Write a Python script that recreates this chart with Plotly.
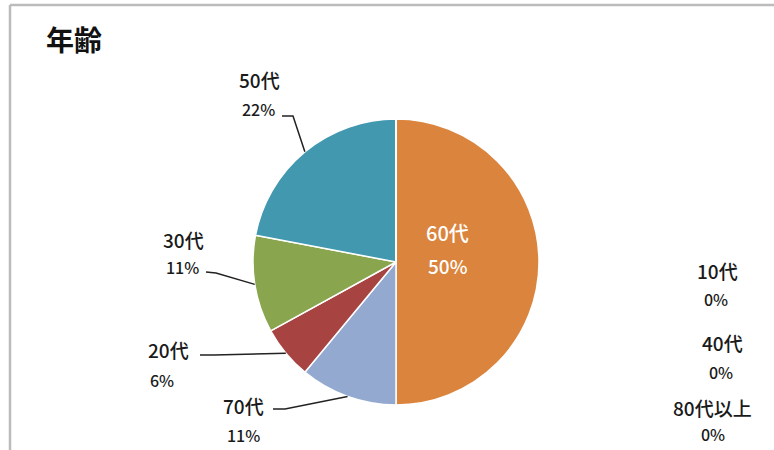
import math
import plotly.graph_objects as go

# ---- data ----
categories = ["60代", "70代", "20代", "30代", "50代", "10代", "40代", "80代以上"]
percentages = [50, 11, 6, 11, 22, 0, 0, 0]
colors = ["#DB843D", "#93A9CF", "#A74442", "#89A54E", "#4198AF", "#7F7F7F", "#7F7F7F", "#7F7F7F"]
title_text = "年齢"

W, H = 774, 450
CX, CY, R = 396, 262, 143  # pie centre/radius in pixels (layout)


def px(x, y):
    return x / W, 1 - y / H


fig = go.Figure()
fig.add_trace(go.Pie(
    labels=categories,
    values=percentages,
    sort=False,
    direction="clockwise",
    rotation=0,
    marker=dict(colors=colors, line=dict(color="white", width=1.5)),
    textinfo="none",
    hoverinfo="label+percent",
    showlegend=False,
    domain=dict(x=[(CX - R) / W, (CX + R) / W], y=[1 - (CY + R) / H, 1 - (CY - R) / H]),
))

# label layout positions (pixel centres of the two text lines)
label_pos = {
    "60代": ((448, 232), (448, 265)),
    "50代": ((259, 79), (258, 109)),
    "30代": ((183, 239), (182, 267)),
    "20代": ((168, 349), (162, 380)),
    "70代": ((243, 405), (243, 435)),
    "10代": ((717, 270), (716, 299)),
    "40代": ((722, 342), (721, 372)),
    "80代以上": ((712, 407), (713, 434)),
}
# leader line start points (pixel)
leader_start = {
    "50代": [(282, 116), (293, 116)],
    "30代": [(206, 272), (216, 273)],
    "20代": [(200, 355), (214, 355)],
    "70代": [(273, 409), (285, 409)],
}

annotations = []
shapes = []
total = sum(percentages)
cum = 0
for cat, val in zip(categories, percentages):
    mid = (cum + val / 2) / total * 2 * math.pi
    cum += val
    (x1, y1), (x2, y2) = label_pos[cat]
    inside = cat == "60代"
    col = "white" if inside else "#1a1a1a"
    for (x, y), txt, sz in (((x1, y1), cat, 20 if inside else 19),
                            ((x2, y2), f"{val}%", 19 if inside else 16)):
        ax, ay = px(x, y)
        annotations.append(dict(
            x=ax, y=ay, xref="paper", yref="paper", text=txt, showarrow=False,
            xanchor="center", yanchor="middle",
            font=dict(family="Noto Sans CJK JP", size=sz, color=col, weight=500),
        ))
    if cat in leader_start:
        ex = CX + R * math.sin(mid)
        ey = CY - R * math.cos(mid)
        pts = leader_start[cat] + [(ex, ey)]
        path = "M " + " L ".join(f"{px(a, b)[0]},{px(a, b)[1]}" for a, b in pts)
        shapes.append(dict(type="path", xref="paper", yref="paper", path=path,
                           line=dict(color="#222222", width=1.5)))

# title
tx, ty = px(44, 39)
annotations.append(dict(x=tx, y=ty, xref="paper", yref="paper", text="<b>" + title_text + "</b>",
                        showarrow=False, xanchor="left", yanchor="middle",
                        font=dict(family="Noto Sans CJK JP", size=28, color="#111111")))

# frame border (top and left)
bx0, by0 = px(10, 5)
shapes.append(dict(type="line", xref="paper", yref="paper", x0=bx0, y0=by0, x1=1.01, y1=by0,
                   line=dict(color="#BBBBBB", width=2.5)))
shapes.append(dict(type="line", xref="paper", yref="paper", x0=bx0, y0=by0, x1=bx0, y1=-0.01,
                   line=dict(color="#BBBBBB", width=2.5)))

fig.update_layout(
    width=W, height=H,
    margin=dict(l=0, r=0, t=0, b=0),
    paper_bgcolor="white", plot_bgcolor="white",
    annotations=annotations, shapes=shapes,
)
fig.write_html("out.html", config={"displayModeBar": False},
               post_script="document.body.style.margin='0px';")
